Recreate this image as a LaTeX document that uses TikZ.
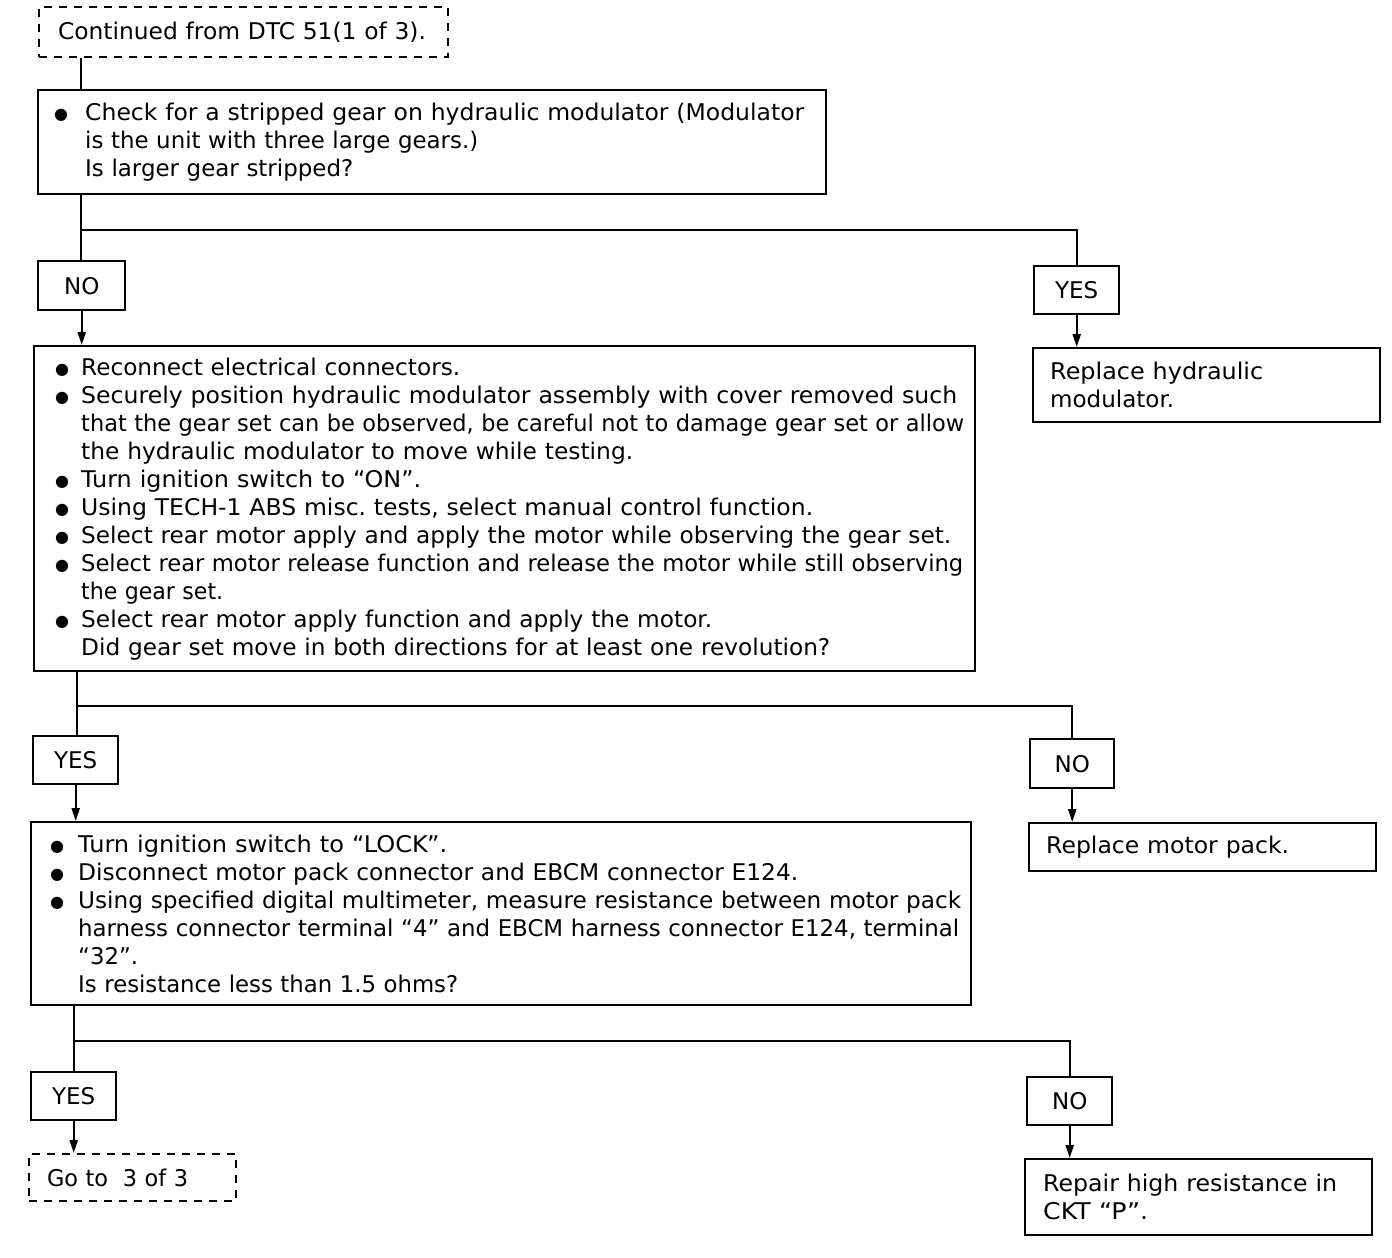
\documentclass[tikz,border=0pt]{standalone}
\usepackage{fontspec}
\usepackage{graphicx}
\setmainfont{DejaVu Sans}
\usetikzlibrary{arrows.meta}
\frenchspacing
\newcommand\fs{\fontsize{23}{28}\selectfont\frenchspacing}
\newcommand\bl[1]{\makebox[#1][l]{\raisebox{1pt}{\fontsize{16}{16}\selectfont ●}}}
\newcommand\fitline[2]{\resizebox{#1}{\height}{#2}}
\tikzset{
  every node/.style={font=\fs},
  box/.style={draw, line width=2.4pt, rectangle, anchor=north west, align=left, inner ysep=0pt},
  yn/.style={draw, line width=2.4pt, rectangle, anchor=north west, inner sep=0pt, align=center},
  dbox/.style={draw, dash pattern=on 8pt off 7pt, line width=2pt, rectangle, anchor=north west, align=left, inner ysep=0pt},
  conn/.style={line width=2.2pt},
  arr/.style={conn, -{Triangle[length=13pt,width=8pt]}}
}
\begin{document}
\begin{tikzpicture}[x=1pt,y=-1pt]
\useasboundingbox[fill=white] (0,0) rectangle (1392,1258);

% start
\node[dbox, inner xsep=19pt, text width=371pt, minimum height=50pt] (cont) at (38,6)
  {\fitline{368pt}{Continued from DTC 51(1 of 3).}};

% box 1
\node[box, inner xsep=16pt, text width=756pt, minimum height=104pt] (box1) at (37,89)
  {\bl{31pt}\fitline{719pt}{Check for a stripped gear on hydraulic modulator (Modulator}\\
   \hspace*{31pt}\fitline{393pt}{is the unit with three large gears.)}\\
   \hspace*{31pt}\fitline{268pt}{Is larger gear stripped?}};

\node[yn, minimum width=87pt, minimum height=49pt] (no1) at (37,260) {NO};
\node[yn, minimum width=85pt, minimum height=48pt] (yes1) at (1033,265) {YES};
\node[box, inner xsep=17pt, text width=313pt, minimum height=74pt] (rep1) at (1032,347)
  {\fitline{213pt}{Replace hydraulic}\\\fitline{124pt}{modulator.}};

% box 2
\node[box, inner xsep=21pt, text width=899pt, minimum height=325pt] (box2) at (33,345)
  {\bl{26pt}\fitline{379pt}{Reconnect electrical connectors.}\\
   \bl{26pt}\fitline{876pt}{Securely position hydraulic modulator assembly with cover removed such}\\
   \hspace*{26pt}\fitline{883pt}{that the gear set can be observed, be careful not to damage gear set or allow}\\
   \hspace*{26pt}\fitline{552pt}{the hydraulic modulator to move while testing.}\\
   \bl{26pt}\fitline{340pt}{Turn ignition switch to “ON”.}\\
   \bl{26pt}\fitline{732pt}{Using TECH-1 ABS misc. tests, select manual control function.}\\
   \bl{26pt}\fitline{870pt}{Select rear motor apply and apply the motor while observing the gear set.}\\
   \bl{26pt}\fitline{882pt}{Select rear motor release function and release the motor while still observing}\\
   \hspace*{26pt}\fitline{142pt}{the gear set.}\\
   \bl{26pt}\fitline{631pt}{Select rear motor apply function and apply the motor.}\\
   \hspace*{26pt}\fitline{749pt}{Did gear set move in both directions for at least one revolution?}};

\node[yn, minimum width=85pt, minimum height=48pt] (yes2) at (32,735) {YES};
\node[yn, minimum width=84pt, minimum height=49pt] (no2) at (1029,738) {NO};
\node[box, inner xsep=17pt, text width=313pt, minimum height=48pt] (rep2) at (1028,822)
  {\fitline{243pt}{Replace motor pack.}};

% box 3
\node[box, inner xsep=19pt, text width=902pt, minimum height=183pt] (box3) at (30,821)
  {\bl{28pt}\fitline{369pt}{Turn ignition switch to “LOCK”.}\\
   \bl{28pt}\fitline{720pt}{Disconnect motor pack connector and EBCM connector E124.}\\
   \bl{28pt}\fitline{883pt}{Using specified digital multimeter, measure resistance between motor pack}\\
   \hspace*{28pt}\fitline{881pt}{harness connector terminal “4” and EBCM harness connector E124, terminal}\\
   \hspace*{28pt}\fitline{60pt}{“32”.}\\
   \hspace*{28pt}\fitline{380pt}{Is resistance less than 1.5 ohms?}};

\node[yn, minimum width=85pt, minimum height=48pt] (yes3) at (30,1071) {YES};
\node[yn, minimum width=85pt, minimum height=48pt] (no3) at (1026,1076) {NO};
\node[dbox, inner xsep=18pt, text width=171pt, minimum height=47pt] (goto) at (28,1153)
  {\fitline{141pt}{Go to\ \ 3 of 3}};
\node[box, inner xsep=18pt, text width=311pt, minimum height=76pt] (rep3) at (1024,1158)
  {\fitline{294pt}{Repair high resistance in}\\\fitline{105pt}{CKT “P”.}};

% branch points
\coordinate (b1) at (81,230);
\coordinate (b2) at (77,706);
\coordinate (b3) at (74,1041);

% connectors
\draw[conn] (cont.south -| b1) -- (box1.north -| b1);
\draw[conn] (box1.south -| b1) -- (no1.north -| b1);
\draw[conn] (b1) -| (yes1.north);
\draw[arr] (no1.south) -- (box2.north -| no1.south);
\draw[arr] (yes1.south) -- (rep1.north -| yes1.south);

\draw[conn] (box2.south -| b2) -- (yes2.north -| b2);
\draw[conn] (b2) -| (no2.north);
\draw[arr] (yes2.south) -- (box3.north -| yes2.south);
\draw[arr] (no2.south) -- (rep2.north -| no2.south);

\draw[conn] (box3.south -| b3) -- (yes3.north -| b3);
\draw[conn] (b3) -| (no3.north);
\draw[arr] (yes3.south) -- (goto.north -| yes3.south);
\draw[arr] (no3.south) -- (rep3.north -| no3.south);
\end{tikzpicture}
\end{document}
